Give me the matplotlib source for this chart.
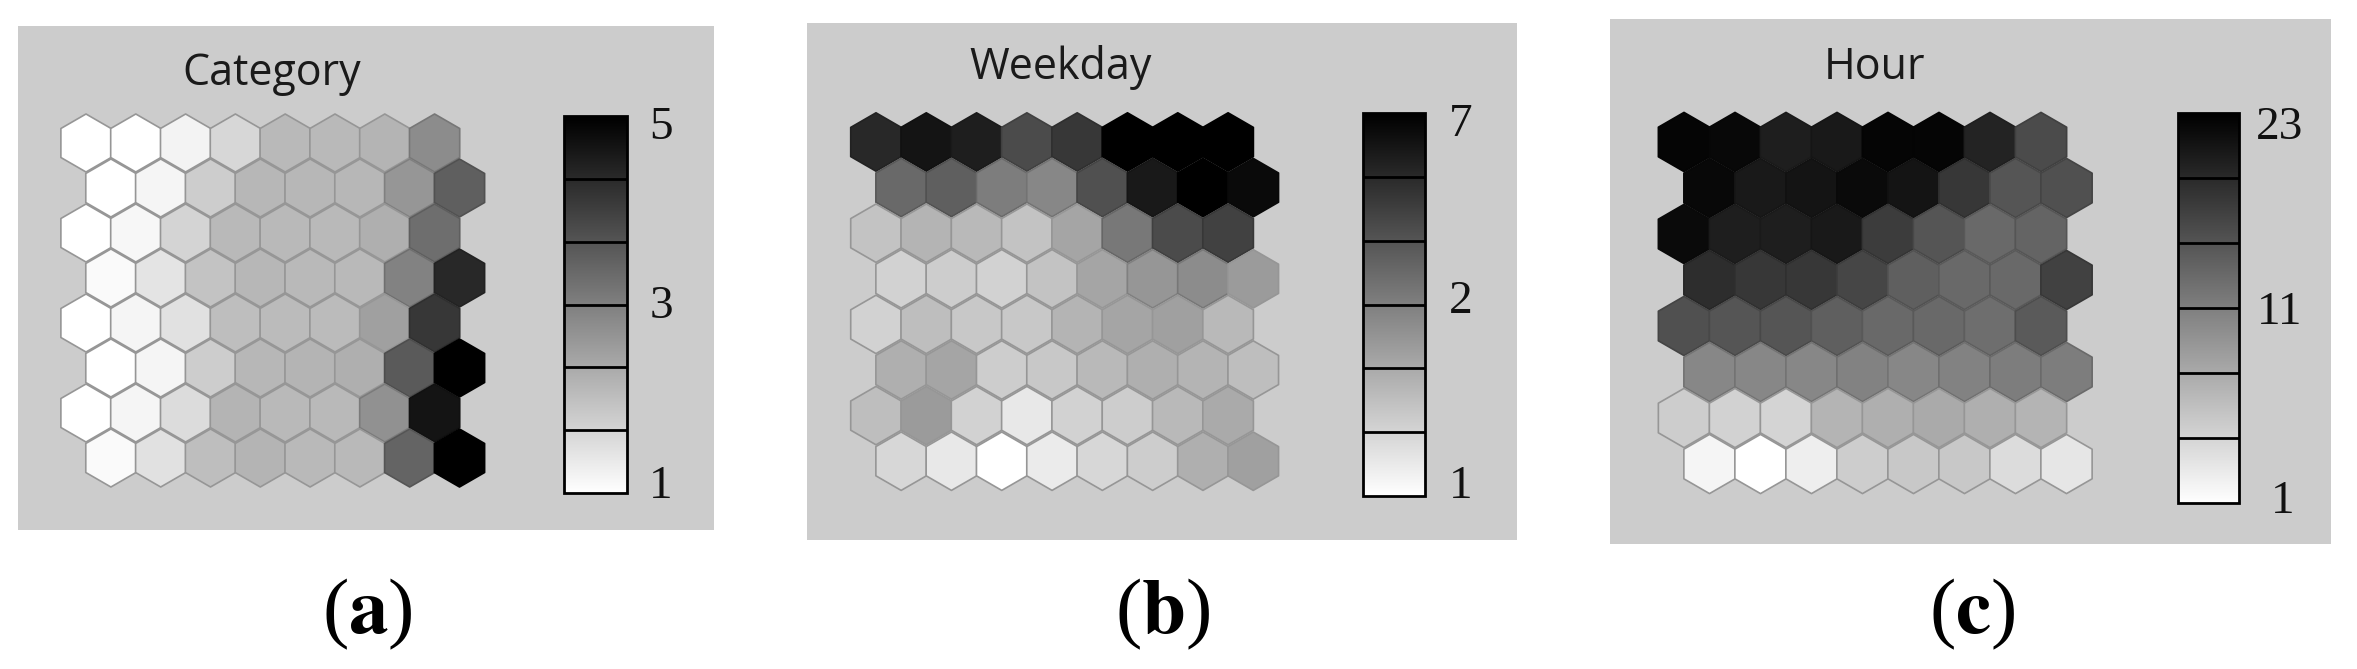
import numpy as np
import matplotlib
matplotlib.use("Agg")
import matplotlib.pyplot as plt
from matplotlib.collections import PolyCollection
from matplotlib.colors import LinearSegmentedColormap
from matplotlib.patches import Rectangle

# Component planes: grey shade of each map cell (rows top to bottom).
category_shades = [
    [255, 255, 243, 215, 185, 185, 180, 140],
    [255, 245, 205, 183, 183, 183, 150, 95],
    [255, 247, 212, 185, 185, 185, 175, 110],
    [250, 228, 195, 183, 185, 185, 130, 40],
    [255, 245, 225, 190, 187, 187, 160, 55],
    [255, 245, 205, 183, 180, 175, 90, 0],
    [255, 245, 220, 180, 185, 185, 145, 20],
    [250, 225, 190, 180, 185, 185, 100, 0],
]
weekday_shades = [
    [40, 20, 30, 75, 55, 0, 0, 0],
    [105, 95, 125, 135, 80, 25, 0, 10],
    [195, 180, 185, 195, 165, 120, 75, 65],
    [210, 205, 210, 195, 165, 150, 140, 155],
    [210, 190, 200, 200, 180, 165, 160, 185],
    [175, 165, 205, 200, 185, 175, 180, 190],
    [190, 155, 210, 232, 210, 205, 185, 170],
    [215, 232, 255, 235, 215, 205, 175, 160],
]
hour_shades = [
    [5, 8, 30, 25, 5, 5, 35, 75],
    [8, 25, 20, 10, 20, 55, 85, 80],
    [10, 30, 30, 25, 60, 85, 105, 100],
    [45, 55, 55, 70, 95, 105, 105, 65],
    [80, 85, 85, 95, 105, 105, 110, 90],
    [135, 135, 135, 130, 135, 130, 125, 125],
    [205, 210, 212, 180, 175, 170, 175, 180],
    [245, 255, 238, 205, 200, 200, 220, 230],
]
titles = ["Category", "Weekday", "Hour"]
tick_labels = [["5", "3", "1"], ["7", "2", "1"], ["23", "11", "1"]]
captions = ["a", "b", "c"]

W, H = 2357, 669
BG = "#cccccc"
panels = [
    dict(box=(18, 26, 714, 530), origin=(86, 143), dx=49.8, dy=45.0, r=29.0,
         cbar=(564, 116, 627, 493), title=(272, 74),
         ticks=[(661, 128), (661, 307), (661, 487)], cap=(367, 614)),
    dict(box=(807, 23, 1517, 540), origin=(876, 142), dx=50.3, dy=45.6, r=29.2,
         cbar=(1363, 113, 1425, 496), title=(1061, 68),
         ticks=[(1461, 125), (1461, 302), (1461, 487)], cap=(1163, 614)),
    dict(box=(1610, 19, 2331, 544), origin=(1684, 142), dx=51.0, dy=46.0, r=29.6,
         cbar=(2178, 113, 2239, 503), title=(1874, 68),
         ticks=[(2280, 128), (2280, 313), (2283, 502)], cap=(1972, 614)),
]

fig = plt.figure(figsize=(W / 100, H / 100), dpi=100, facecolor="white")
ax = fig.add_axes([0, 0, 1, 1])
ax.set_xlim(0, W)
ax.set_ylim(H, 0)
ax.axis("off")

cmap = LinearSegmentedColormap.from_list("g", ["#000000", "#ffffff"])
angles = np.deg2rad(np.arange(6) * 60 + 30)

for p, shades, title, ticks, cap in zip(panels, [category_shades, weekday_shades, hour_shades],
                                         titles, tick_labels, captions):
    x0, y0, x1, y1 = p["box"]
    ax.add_patch(Rectangle((x0, y0), x1 - x0, y1 - y0, fc=BG, ec="none", zorder=1))
    polys, faces, edges = [], [], []
    for r, row in enumerate(shades):
        for c, g in enumerate(row):
            cx = p["origin"][0] + p["dx"] * (c + 0.5 * (r % 2))
            cy = p["origin"][1] + p["dy"] * r
            polys.append(np.column_stack([cx + p["r"] * np.cos(angles), cy + p["r"] * np.sin(angles)]))
            faces.append(cmap(g / 255))
            e = 150 if g > 150 else g * 0.85
            edges.append((e / 255, e / 255, e / 255, 1))
    ax.add_collection(PolyCollection(polys, facecolors=faces, edgecolors=edges,
                                     linewidths=1.2, zorder=2))
    bx0, by0, bx1, by1 = p["cbar"]
    grad = np.linspace(0, 1, 256).reshape(-1, 1)
    ax.imshow(grad, cmap=cmap, extent=(bx0, bx1, by1, by0), aspect="auto", zorder=3,
              vmin=0, vmax=1)
    ax.add_patch(Rectangle((bx0, by0), bx1 - bx0, by1 - by0, fc="none", ec="black", lw=2, zorder=4))
    for k in range(1, 6):
        yy = by0 + (by1 - by0) * k / 6
        ax.plot([bx0, bx1], [yy, yy], color="black", lw=2, zorder=4, solid_capstyle="butt")
    ax.text(*p["title"], title, ha="center", va="center", fontsize=31,
            family="Open Sans", color="#1a1a1a", zorder=5)
    for (tx, ty), s in zip(p["ticks"], ticks):
        ax.text(tx, ty, s, ha="center", va="center", fontsize=34,
                family="Liberation Serif", color="#111111", zorder=5)
    ax.text(p["cap"][0], p["cap"][1], r"($\mathbf{" + cap + r"}$)", ha="center", va="center",
            fontsize=57, family="Liberation Serif", math_fontfamily="stix", zorder=5)

ax.set_xlim(0, W)
ax.set_ylim(H, 0)
fig.savefig("out.png", dpi=100, facecolor="white")
